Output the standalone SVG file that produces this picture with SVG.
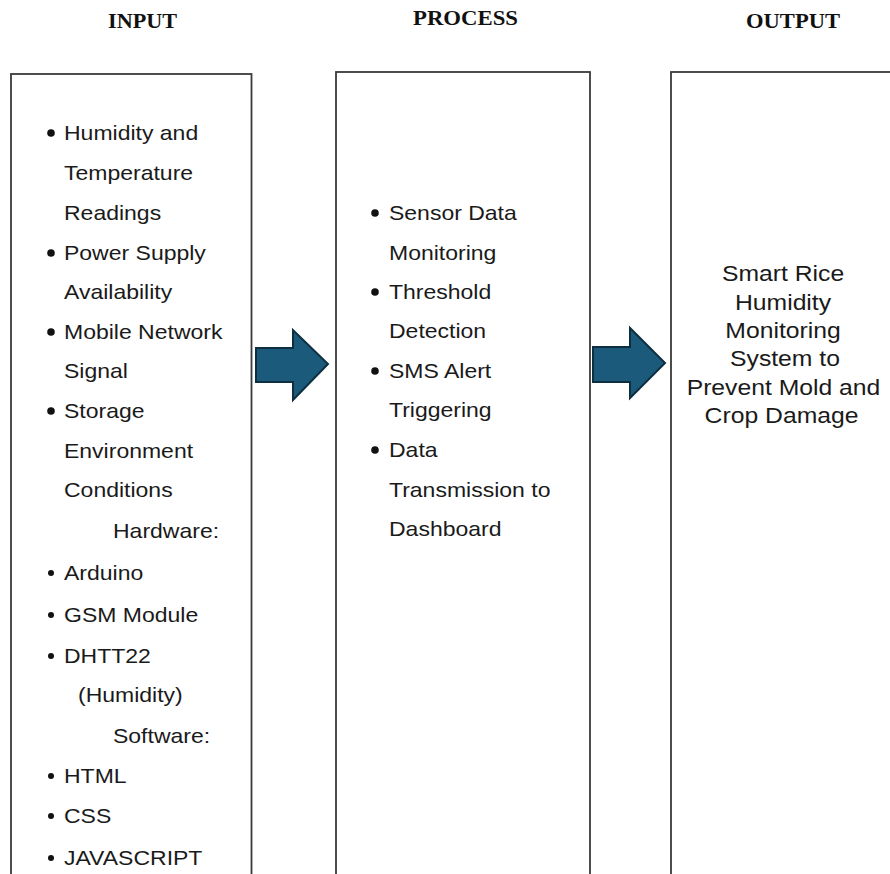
<svg xmlns="http://www.w3.org/2000/svg" width="890" height="874" viewBox="0 0 890 874">
<style>
.box{fill:#fff;stroke:#3a3a3a;stroke-width:1.8}
.title{font-family:"Liberation Serif","Times New Roman",serif;font-weight:bold;font-size:22px;fill:#111}
.t{font-family:"Liberation Sans",Arial,sans-serif;font-size:20px;fill:#1a1a1a}
.o{font-family:"Liberation Sans",Arial,sans-serif;font-size:21.5px;fill:#1a1a1a;text-anchor:middle}
.b{fill:#111}
.arrow{fill:#1b5a7b;stroke:#0e2f40;stroke-width:2;stroke-linejoin:miter}
</style>
<rect width="890" height="874" fill="#fff"/>
<g id="titles">
<text class="title" x="108" y="28" textLength="69" lengthAdjust="spacingAndGlyphs">INPUT</text>
<text class="title" x="413" y="25" textLength="105" lengthAdjust="spacingAndGlyphs">PROCESS</text>
<text class="title" x="746" y="28" textLength="94" lengthAdjust="spacingAndGlyphs">OUTPUT</text>
</g>
<g id="input">
<rect class="box" x="11" y="74" width="240.5" height="830"/>
<circle class="b" cx="51" cy="133" r="3.8"/>
<circle class="b" cx="51" cy="253" r="3.8"/>
<circle class="b" cx="51" cy="332" r="3.8"/>
<circle class="b" cx="51" cy="411" r="3.8"/>
<circle class="b" cx="51" cy="573" r="3"/>
<circle class="b" cx="51" cy="615" r="3"/>
<circle class="b" cx="51" cy="656" r="3"/>
<circle class="b" cx="51" cy="776" r="3"/>
<circle class="b" cx="51" cy="816" r="3"/>
<circle class="b" cx="51" cy="858" r="3"/>
<g transform="scale(1.15 1)">
<text class="t" x="55.65" y="140">Humidity and</text>
<text class="t" x="55.65" y="180">Temperature</text>
<text class="t" x="55.65" y="220">Readings</text>
<text class="t" x="55.65" y="260">Power Supply</text>
<text class="t" x="55.65" y="299">Availability</text>
<text class="t" x="55.65" y="339">Mobile Network</text>
<text class="t" x="55.65" y="378">Signal</text>
<text class="t" x="55.65" y="418">Storage</text>
<text class="t" x="55.65" y="458">Environment</text>
<text class="t" x="55.65" y="497">Conditions</text>
<text class="t" x="98.26" y="538">Hardware:</text>
<text class="t" x="55.65" y="580">Arduino</text>
<text class="t" x="55.65" y="622">GSM Module</text>
<text class="t" x="55.65" y="663">DHTT22</text>
<text class="t" x="67.83" y="702">(Humidity)</text>
<text class="t" x="98.26" y="743">Software:</text>
<text class="t" x="55.65" y="783">HTML</text>
<text class="t" x="55.65" y="823">CSS</text>
<text class="t" x="55.65" y="865">JAVASCRIPT</text>
</g>
</g>
<g id="process">
<rect class="box" x="336" y="72" width="254" height="830"/>
<circle class="b" cx="375" cy="213" r="3.8"/>
<circle class="b" cx="375" cy="292" r="3.8"/>
<circle class="b" cx="375" cy="371" r="3.8"/>
<circle class="b" cx="375" cy="450" r="3.8"/>
<g transform="scale(1.15 1)">
<text class="t" x="338.26" y="220">Sensor Data</text>
<text class="t" x="338.26" y="260">Monitoring</text>
<text class="t" x="338.26" y="299">Threshold</text>
<text class="t" x="338.26" y="338">Detection</text>
<text class="t" x="338.26" y="378">SMS Alert</text>
<text class="t" x="338.26" y="417">Triggering</text>
<text class="t" x="338.26" y="457">Data</text>
<text class="t" x="338.26" y="497">Transmission to</text>
<text class="t" x="338.26" y="536">Dashboard</text>
</g>
</g>
<g id="output">
<rect class="box" x="671" y="72" width="240" height="830"/>
<g transform="scale(1.15 1)">
<text class="o" x="680.9" y="281">Smart Rice</text>
<text class="o" x="680.9" y="310">Humidity</text>
<text class="o" x="680.9" y="338">Monitoring</text>
<text class="o" x="682.6" y="366">System to</text>
<text class="o" x="681.3" y="395">Prevent Mold and</text>
<text class="o" x="679.6" y="423">Crop Damage</text>
</g>
</g>
<g id="connectors">
<polygon class="arrow" points="256,348 293,348 293,330 328,364 293,400 293,382 256,382"/>
<polygon class="arrow" points="593,347 630,347 630,328 665,363 630,398 630,382 593,382"/>
</g>
</svg>
